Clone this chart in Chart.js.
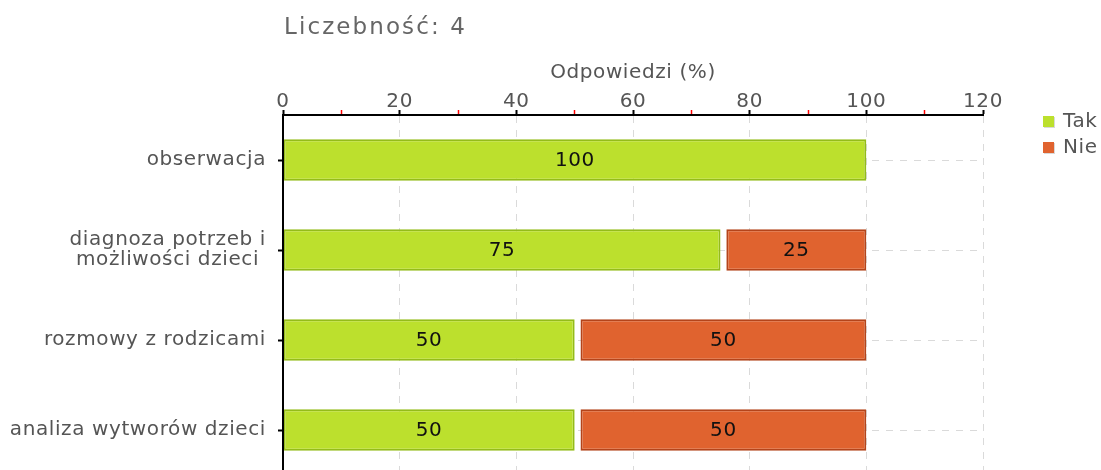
<!doctype html>
<html lang="pl">

<head>
    <meta charset="utf-8">
    <title>Liczebność: 4</title>
    <style>
        * {
            margin: 0;
            padding: 0;
        }

        body {
            width: 1101px;
            height: 470px;
            overflow: hidden;
            background: #fff;
        }
    </style>
</head>

<body>
    <canvas id="myChart" width="1101" height="497"></canvas>
    <script src="https://cdn.jsdelivr.net/npm/chart.js"></script>
    <script>
        // data
        const chartTitle = 'Liczebność: 4'
        const axisTitle = 'Odpowiedzi (%)'
        const categories = [
            'obserwacja',
            ['diagnoza potrzeb i', 'możliwości dzieci '],
            'rozmowy z rodzicami',
            'analiza wytworów dzieci'
        ]
        const seriesNames = ['Tak', 'Nie']
        const tak = [100, 75, 50, 50]
        const nie = [0, 25, 50, 50]
        const xMin = 0
        const xMax = 120
        const xStep = 10
        const xLabelStep = 20

        const green = '#bce02d'
        const greenBorder = '#94bc18'
        const orange = '#e0632f'
        const orangeBorder = '#b4441a'
        const font = 'DejaVu Sans'
        const spacing = '0.6px'

        // small gap between the two stacked parts
        const gap = 1

        const takBars = tak.map(v => v > 0 ? [0, v] : null)
        const nieBars = nie.map((v, i) => v > 0 ? [tak[i] + gap, tak[i] + v] : null)
        const values = [tak, nie]

        let decorations = {
            id: 'decorations',
            beforeLayout(chart) {
                chart.ctx.letterSpacing = spacing
            },
            beforeDraw(chart) {
                chart.ctx.letterSpacing = spacing
            },
            afterDatasetsDraw(chart) {
                const { ctx } = chart
                ctx.save()
                ctx.font = '20px "' + font + '"'
                ctx.fillStyle = '#111'
                ctx.textAlign = 'center'
                ctx.textBaseline = 'middle'
                chart.data.datasets.forEach((ds, d) => {
                    chart.getDatasetMeta(d).data.forEach((bar, i) => {
                        if (!values[d][i]) return
                        ctx.fillText(String(values[d][i]), (bar.x + bar.base) / 2, bar.y + 1)
                    })
                })
                ctx.restore()
            },
            afterDraw(chart) {
                const { ctx } = chart
                ctx.save()
                // title
                ctx.font = '23px "' + font + '"'
                ctx.letterSpacing = '2.1px'
                ctx.fillStyle = '#666'
                ctx.textAlign = 'left'
                ctx.textBaseline = 'alphabetic'
                ctx.fillText(chartTitle, 284, 34)
                ctx.letterSpacing = spacing
                // legend
                ctx.font = '20px "' + font + '"'
                ctx.textBaseline = 'middle'
                chart.data.datasets.forEach((ds, d) => {
                    let y = 116 + d * 26
                    ctx.fillStyle = 'rgba(0,0,0,0.15)'
                    ctx.fillRect(1044, y + 1, 11, 11)
                    ctx.fillStyle = ds.backgroundColor
                    ctx.fillRect(1043, y, 11, 11)
                    ctx.fillStyle = '#555'
                    ctx.fillText(ds.label, 1063, y + 6)
                })
                ctx.restore()
            }
        }

        const data = {
            labels: categories,
            datasets: [{
                label: seriesNames[0],
                data: takBars,
                backgroundColor: green,
                borderColor: greenBorder,
                borderWidth: 2,
                borderSkipped: false
            }, {
                label: seriesNames[1],
                data: nieBars,
                backgroundColor: orange,
                borderColor: orangeBorder,
                borderWidth: 2,
                borderSkipped: false
            }]
        }

        const config = {
            type: 'bar',
            data,
            options: {
                indexAxis: 'y',
                responsive: false,
                animation: false,
                layout: {
                    padding: { left: 0, right: 118, top: 61, bottom: 5 }
                },
                datasets: {
                    bar: {
                        grouped: false,
                        categoryPercentage: 1,
                        barPercentage: 0.46
                    }
                },
                plugins: {
                    legend: { display: false },
                    title: { display: false },
                    tooltip: { enabled: false }
                },
                scales: {
                    x: {
                        position: 'top',
                        min: xMin,
                        max: xMax,
                        afterFit(scale) { scale.height = 54 },
                        title: {
                            display: true,
                            text: axisTitle,
                            color: '#555',
                            font: { family: font, size: 20, lineHeight: 1.2 },
                            padding: { top: 0, bottom: 0 }
                        },
                        ticks: {
                            stepSize: xStep,
                            autoSkip: false,
                            maxRotation: 0,
                            padding: -2,
                            color: '#555',
                            font: { family: font, size: 20, lineHeight: 1 },
                            callback: v => v % xLabelStep === 0 ? v : ''
                        },
                        grid: {
                            color: c => c.tick && c.tick.value % xLabelStep === 0 ? '#dadada' : 'rgba(0,0,0,0)',
                            tickColor: c => c.tick && c.tick.value % xLabelStep === 0 ? '#000' : '#f00',
                            tickWidth: c => c.tick && c.tick.value % xLabelStep === 0 ? 2 : 1.5,
                            tickLength: 5
                        },
                        border: {
                            color: '#000',
                            width: 2,
                            dash: [7, 7],
                            z: 1
                        }
                    },
                    y: {
                        afterFit(scale) { scale.width = 283 },
                        ticks: {
                            padding: 12,
                            color: '#555',
                            font: { family: font, size: 20, lineHeight: 1 }
                        },
                        grid: {
                            offset: false,
                            color: '#dadada',
                            tickColor: '#000',
                            tickLength: 5,
                            tickWidth: 2
                        },
                        border: {
                            color: '#000',
                            width: 2,
                            dash: [7, 7],
                            z: 1
                        }
                    }
                }
            },
            plugins: [decorations]
        }

        const myChart = new Chart(document.getElementById('myChart'), config)
    </script>
</body>

</html>
